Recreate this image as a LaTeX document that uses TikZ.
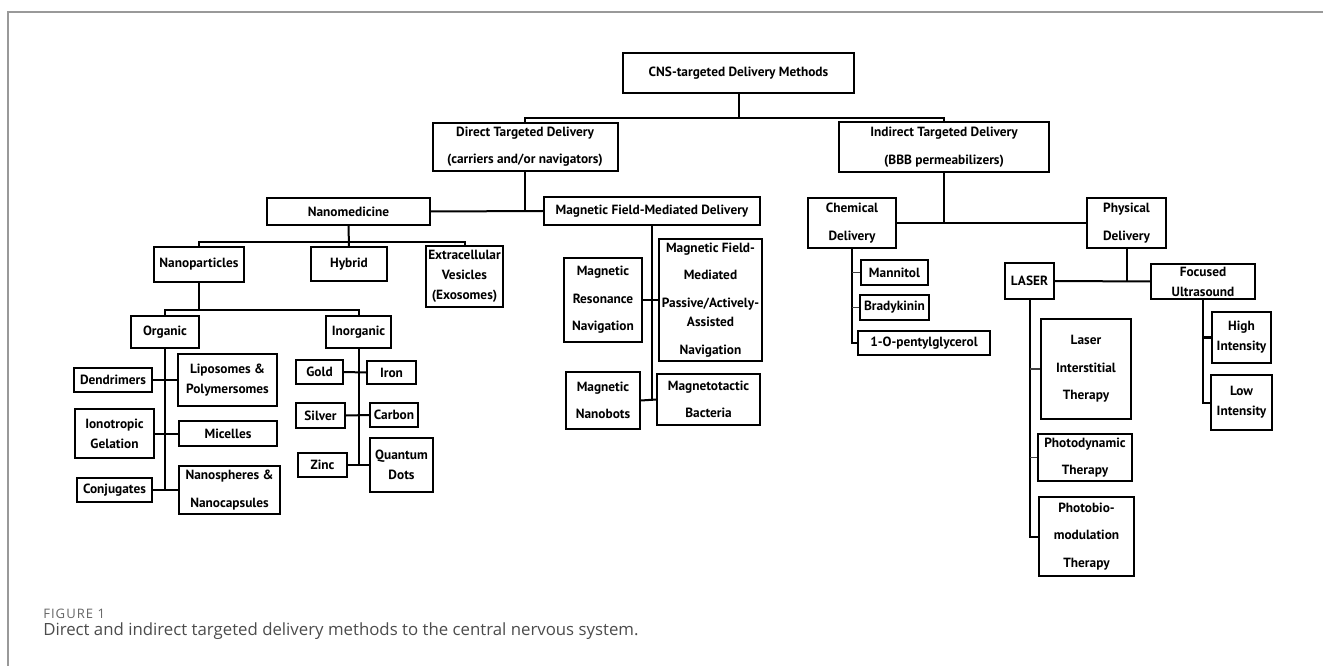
\documentclass[tikz,border=0pt]{standalone}
\usepackage{fontspec}
\setmainfont{Open Sans}
\newfontfamily\boxfont{PT Sans}
\newfontfamily\figlabelfont[LetterSpace=8]{Open Sans}
\begin{document}
\begin{tikzpicture}[
  x=0.75pt, y=-0.75pt,
  box/.style={draw=black, line width=1.5pt, fill=white, inner sep=0pt, align=center,
    font=\boxfont\bfseries\fontsize{10}{15}\selectfont},
  wide/.style={font=\boxfont\bfseries\fontsize{10}{20.6}\selectfont},
  sz/.style 2 args={minimum width=#1*0.75pt, minimum height=#2*0.75pt},
  link/.style={line width=1.5pt},
  stub/.style={line width=0.8pt, black!75},
  frame/.style={black!40, line width=1.2pt}
]

% === Page frame ===
\fill[white] (0,0) rectangle (1323,666);
\useasboundingbox (0,0) rectangle (1323,666);
\draw[frame] (8,666) -- (8,12) -- (1323,12);

% === Top levels ===
\node[box, sz={231}{40}] (root) at (738.5,73) {CNS-targeted Delivery Methods};
\node[box, wide, sz={185}{48}] (direct) at (525,146.7) {Direct Targeted Delivery\\(carriers and/or navigators)};
\node[box, wide, sz={210}{50}] (indirect) at (944,147) {Indirect Targeted Delivery\\(BBB permeabilizers)};

% === Direct branch ===
\node[box, sz={163}{27}] (nano) at (348.5,211.5) {Nanomedicine};
\node[box, sz={216}{28}] (mfmd) at (652,211) {Magnetic Field-Mediated Delivery};
\node[box, sz={90}{35}] (nanop) at (199,264.5) {Nanoparticles};
\node[box, sz={76}{34}] (hybrid) at (349,264.5) {Hybrid};
\node[box, sz={77}{61}] (ext) at (464.5,276.5) {Extracellular\\Vesicles\\(Exosomes)};
\node[box, sz={68}{32}] (organic) at (165,332) {Organic};
\node[box, sz={65}{32}] (inorganic) at (358.5,332) {Inorganic};

% organic carriers
\node[box, sz={78}{24}] (dend) at (113,380) {Dendrimers};
\node[box, sz={99}{52}] (lipo) at (227.5,380) {Liposomes \&\\Polymersomes};
\node[box, sz={79}{49}] (iono) at (114.5,433.5) {Ionotropic\\Gelation};
\node[box, sz={98}{25}] (mic) at (228,433.5) {Micelles};
\node[box, sz={75}{24}] (conj) at (114.5,490) {Conjugates};
\node[box, wide, sz={101}{48}] (nsph) at (229.5,490) {Nanospheres \&\\Nanocapsules};

% inorganic carriers
\node[box, sz={47}{24}] (gold) at (319.5,372) {Gold};
\node[box, sz={49}{23}] (iron) at (391.5,372.5) {Iron};
\node[box, sz={49}{25}] (silver) at (320.5,415.5) {Silver};
\node[box, sz={48}{24}] (carbon) at (394,415) {Carbon};
\node[box, sz={49}{24}] (zinc) at (322.5,465) {Zinc};
\node[box, sz={63}{54}] (qdots) at (401.5,465) {Quantum\\Dots};

% magnetic navigation
\node[box, wide, sz={78}{84}] (mrn) at (603,300) {Magnetic\\Resonance\\Navigation};
\node[box, wide, sz={103}{122}] (mfmp) at (710.5,300) {Magnetic Field-\\Mediated\\Passive/Actively-\\[-6pt]Assisted\\Navigation};
\node[box, wide, sz={74}{57}] (mnb) at (603,400.5) {Magnetic\\Nanobots};
\node[box, wide, sz={103}{51}] (mtb) at (708.5,399.5) {Magnetotactic\\Bacteria};

% === Indirect branch ===
\node[box, wide, sz={88}{50}] (chem) at (852,223) {Chemical\\Delivery};
\node[box, wide, sz={79}{50}] (phys) at (1126.5,223) {Physical\\Delivery};
\node[box, sz={67}{25}] (mann) at (894.5,272.5) {Mannitol};
\node[box, sz={69}{25}] (brady) at (894.5,307.5) {Bradykinin};
\node[box, sz={132}{24}] (pentyl) at (924,343) {1-O-pentylglycerol};
\node[box, sz={49}{36}] (laser) at (1029.5,281) {LASER};
\node[box, sz={104}{35}] (fus) at (1203,281.5) {Focused\\Ultrasound};
\node[box, wide, sz={90}{100}] (lit) at (1086,369) {Laser\\Interstitial\\Therapy};
\node[box, wide, sz={94}{47}] (pdt) at (1085,457.5) {Photodynamic\\Therapy};
\node[box, wide, sz={95}{79}] (pbm) at (1086.5,536.5) {Photobio-\\modulation\\Therapy};
\node[box, sz={59}{51}] (high) at (1241.5,337.5) {High\\Intensity};
\node[box, sz={61}{55}] (low) at (1241.5,402.5) {Low\\Intensity};

% === Connectors ===
\coordinate (j0) at (738.5,118);
\draw[link] (root.south) -- (j0);
\draw[link] (direct.north) |- (j0) -| (indirect.north);

\draw[link] (direct.south) -- (direct.south |- nano.east);
\draw[link] (nano.east) -- (mfmd.west);

\coordinate (j1) at (349,242);
\draw[link] (nano.south) -- (hybrid.north);
\draw[link] (nanop.north) |- (j1) -| (ext.north);

\coordinate (j2) at (199,310);
\draw[link] (nanop.south) -- (j2);
\draw[link] (organic.north) |- (j2) -| (inorganic.north);

\draw[link] (organic.south) -- (organic.south |- conj.east);
\draw[link] (dend.east) -- (lipo.west);
\draw[link] (iono.east) -- (mic.west);
\draw[link] (conj.east) -- (nsph.west);

\draw[link] (inorganic.south) -- (inorganic.south |- zinc.east);
\draw[link] (gold.east) -- (iron.west);
\draw[link] (silver.east) -- (carbon.west);
\draw[link] (zinc.east) -- (qdots.west);

\draw[link] (mfmd.south) -- (mfmd.south |- mnb.east);
\draw[link] (mrn.east) -- (mfmp.west);
\draw[link] (mnb.east) -- (mtb.west);

\draw[link] (indirect.south) -- (indirect.south |- chem.east);
\draw[link] (chem.east) -- (phys.west);
\draw[link] (chem.south) |- (pentyl.west);
\draw[stub] (chem.south |- mann.west) -- (mann.west);
\draw[stub] (chem.south |- brady.west) -- (brady.west);

\draw[link] (phys.south) -- (phys.south |- laser.east);
\draw[link] (laser.east) -- (fus.west);
\draw[link] (laser.south) |- (pbm.west);
\draw[stub] (laser.south |- lit.west) -- (lit.west);
\draw[stub] (laser.south |- pdt.west) -- (pdt.west);
\draw[link] (fus.south) |- (low.west);
\draw[link] (fus.south |- high.west) -- (high.west);

% === Caption ===
\node[anchor=west, inner sep=0pt, text=black!60, font=\figlabelfont\fontsize{9.8}{11}\selectfont] (fig) at (43,614) {FIGURE 1};
\node[anchor=west, inner sep=0pt, text=black!70, font=\fontsize{12.6}{14}\selectfont] (cap) at (43,631) {Direct and indirect targeted delivery methods to the central nervous system.};

\end{tikzpicture}
\end{document}
